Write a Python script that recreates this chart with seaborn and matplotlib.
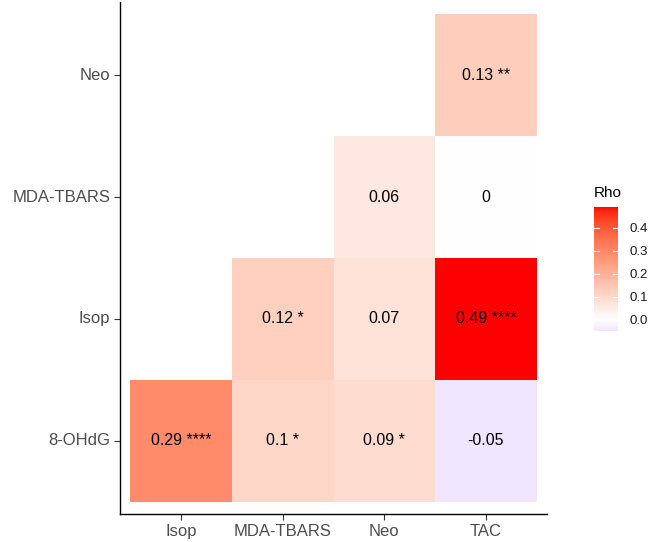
import numpy as np
import pandas as pd
import matplotlib
matplotlib.use("Agg")
import matplotlib.pyplot as plt
import seaborn as sns
from matplotlib.colors import ListedColormap, Normalize

# data (rows listed bottom to top, as on the chart)
row_labels = ["8-OHdG", "Isop", "MDA-TBARS", "Neo"]
col_labels = ["Isop", "MDA-TBARS", "Neo", "TAC"]
rho_8ohdg = [0.29, 0.10, 0.09, -0.05]
rho_isop = [np.nan, 0.12, 0.07, 0.49]
rho_mda = [np.nan, np.nan, 0.06, 0.00]
rho_neo = [np.nan, np.nan, np.nan, 0.13]
stars_8ohdg = ["****", "*", "*", ""]
stars_isop = ["", "*", "", "****"]
stars_mda = ["", "", "", ""]
stars_neo = ["", "", "", "**"]
cbar_ticks = [0.0, 0.1, 0.2, 0.3, 0.4]


def srgb_to_lab(rgb):
    c = np.asarray(rgb, float)
    c = np.where(c > 0.04045, ((c + 0.055) / 1.055) ** 2.4, c / 12.92)
    m = np.array([[0.4124, 0.3576, 0.1805],
                  [0.2126, 0.7152, 0.0722],
                  [0.0193, 0.1192, 0.9505]])
    xyz = m @ c / np.array([0.95047, 1.0, 1.08883])
    f = np.where(xyz > 0.008856, np.cbrt(xyz), 7.787 * xyz + 16 / 116)
    return np.array([116 * f[1] - 16, 500 * (f[0] - f[1]), 200 * (f[1] - f[2])])


def lab_to_srgb(lab):
    L, a, b = lab
    fy = (L + 16) / 116
    fx = fy + a / 500
    fz = fy - b / 200
    f = np.array([fx, fy, fz])
    xyz = np.where(f ** 3 > 0.008856, f ** 3, (f - 16 / 116) / 7.787)
    xyz = xyz * np.array([0.95047, 1.0, 1.08883])
    minv = np.array([[3.2406, -1.5372, -0.4986],
                     [-0.9689, 1.8758, 0.0415],
                     [0.0557, -0.2040, 1.0570]])
    c = minv @ xyz
    c = np.where(c > 0.0031308, 1.055 * np.abs(c) ** (1 / 2.4) - 0.055, 12.92 * c)
    return np.clip(c, 0, 1)


def gradient2(low, mid, high, n=256):
    """low-mid-high ramp interpolated in Lab, like ggplot's scale_fill_gradient2."""
    lo, mi, hi = srgb_to_lab(low), srgb_to_lab(mid), srgb_to_lab(high)
    cols = []
    for t in np.linspace(0, 1, n):
        if t < 0.5:
            lab = lo + (mi - lo) * (t / 0.5)
        else:
            lab = mi + (hi - mi) * ((t - 0.5) / 0.5)
        cols.append(lab_to_srgb(lab))
    return ListedColormap(cols)


cmap = gradient2((0, 0, 1), (1, 1, 1), (1, 0, 0))
lim = 0.49
norm = Normalize(vmin=-lim, vmax=lim)

rows_vals = [rho_8ohdg, rho_isop, rho_mda, rho_neo]
rows_stars = [stars_8ohdg, stars_isop, stars_mda, stars_neo]
df = pd.DataFrame(rows_vals, index=row_labels, columns=col_labels).iloc[::-1]
annot = []
for vals, st in zip(rows_vals, rows_stars):
    annot.append(["" if np.isnan(v) else f"{v:g} {s}".strip() for v, s in zip(vals, st)])
annot = np.array(annot[::-1])

plt.rcParams["font.family"] = ["Liberation Sans", "DejaVu Sans"]

fig = plt.figure(figsize=(6.5, 5.42), dpi=100)
ax = fig.add_axes([120 / 650, 1 - 514 / 542, 427 / 650, 512 / 542])
sns.heatmap(df, ax=ax, cmap=cmap, norm=norm, cbar=False, annot=annot, fmt="",
            annot_kws={"fontsize": 11.5, "color": "black"}, linewidths=0)

ax.set_xlim(-0.1, 4.1)
ax.set_ylim(4.1, -0.1)
for side in ["top", "right"]:
    ax.spines[side].set_visible(False)
for side in ["left", "bottom"]:
    ax.spines[side].set_visible(True)
    ax.spines[side].set_color("black")
    ax.spines[side].set_linewidth(1.0)
ax.set_xlabel("")
ax.set_ylabel("")
ax.tick_params(axis="both", length=4, width=0.8, color="#333333",
               labelsize=12, labelcolor="#4D4D4D", pad=3)
plt.setp(ax.get_yticklabels(), rotation=0)
plt.setp(ax.get_xticklabels(), rotation=0)

# legend colourbar
cax = fig.add_axes([594 / 650, 1 - 331 / 542, 24 / 650, 124 / 542])
grad = np.linspace(-0.05, 0.49, 300).reshape(-1, 1)
cax.imshow(grad, aspect="auto", origin="lower", cmap=cmap, norm=norm,
           extent=[0, 1, -0.05, 0.49])
cax.set_xlim(0, 1)
cax.set_ylim(-0.05, 0.49)
for t in cbar_ticks:
    cax.plot([0, 0.2], [t, t], color="white", lw=0.8)
    cax.plot([0.8, 1], [t, t], color="white", lw=0.8)
cax.set_xticks([])
cax.yaxis.tick_right()
cax.set_yticks(cbar_ticks)
cax.set_yticklabels([f"{t:.1f}" for t in cbar_ticks])
cax.tick_params(axis="y", length=0, labelsize=9.5, labelcolor="#1A1A1A", pad=8)
for s in cax.spines.values():
    s.set_visible(False)
fig.text(594 / 650, 1 - 193 / 542, "Rho", fontsize=11, color="black",
         ha="left", va="center")

fig.savefig("out.png", dpi=100)
